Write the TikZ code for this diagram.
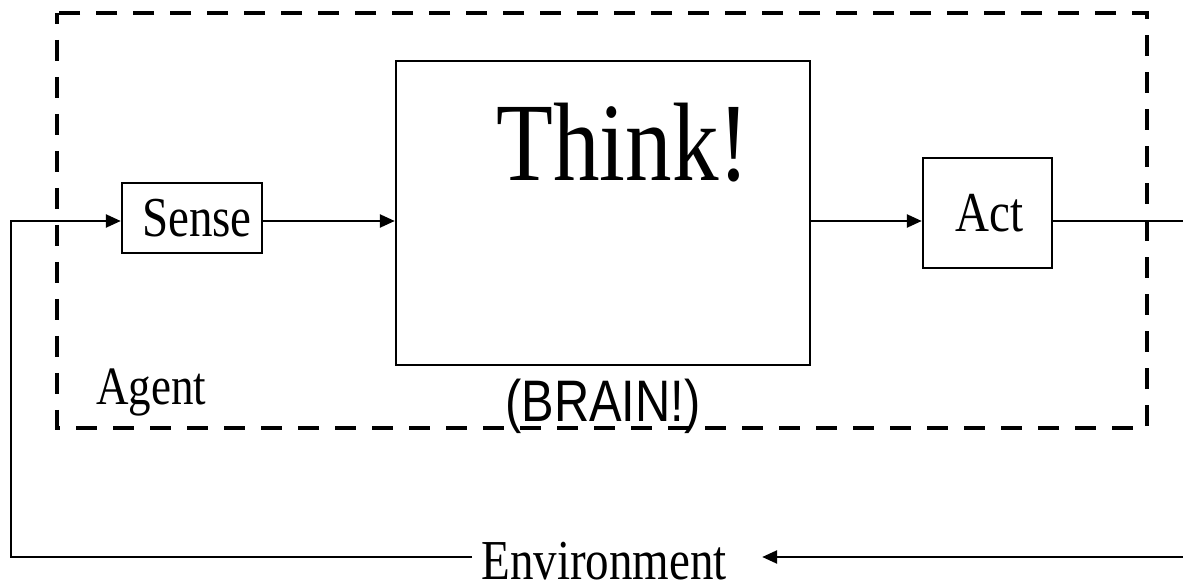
\documentclass[tikz,border=0pt]{standalone}
\usepackage{fontspec}
\usepackage{graphicx}
\setmainfont{Liberation Serif}
\newfontfamily\arialfont{Liberation Sans}
\usetikzlibrary{arrows.meta, positioning, calc}
\newcommand{\tall}[1]{\scalebox{1}[1.2]{#1}}
\tikzset{
  block/.style={rectangle, draw=black, line width=1.2pt, inner sep=0pt, font=\fontsize{23.5}{26}\selectfont},
  agentbox/.style={draw=black, line width=2.25pt, dash pattern=on 10.5pt off 8pt, dash phase=5pt},
  label/.style={inner sep=0pt, font=\fontsize{23.5}{26}\selectfont},
  wire/.style={draw=black, line width=1.2pt},
  signal/.style={wire, -{Triangle[length=7.5pt, width=6.5pt]}}
}
\begin{document}
\begin{tikzpicture}[x=0.5pt, y=-0.5pt]
    \useasboundingbox (0,0) rectangle (1183,587);
    % Agent boundary
    \draw[agentbox] (57,13) rectangle (1147,428);
    % Sense -> Think -> Act
    \node[block, minimum width=70pt, minimum height=35pt] (sense) at (192,218) {\hspace*{5pt}\tall{Sense}};
    \node[block, minimum width=207pt, minimum height=152pt] (think) at (603,213) {};
    \node[block, minimum width=64.5pt, minimum height=55pt] (act) at (987.5,213) {\hspace*{2pt}\tall{Act}};
    \node[label, font=\fontsize{46.5}{50}\selectfont] (thinktext) at (623,143) {\tall{Think!}};
    \node[label, anchor=base west, font=\fontsize{22.5}{25}\selectfont] (agent) at (96,405) {\tall{Agent}};
    \node[label, anchor=base, font=\arialfont\fontsize{24.4}{27}\selectfont] (brain) at (603,422) {\tall{(BRAIN!)}};
    \node[label, anchor=base west, inner xsep=4.5pt] (env) at (472,579) {\tall{Environment}};
    % signal line and feedback loop
    \coordinate (sig) at (0,221);
    \coordinate (loopL) at (11,557);
    \coordinate (loopR) at (1195,557);
    \coordinate (envtip) at ($(env.east)+(13pt,0)$);
    \draw[signal] (sense.east |- sig) -- (think.west |- sig);
    \draw[signal] (think.east |- sig) -- (act.west |- sig);
    \draw[wire] (act.east |- sig) -| (loopR);
    \draw[signal] (loopR) -- (envtip |- loopR);
    \draw[signal] (env.west |- loopL) -- (loopL) |- (sense.west |- sig);
\end{tikzpicture}
\end{document}
